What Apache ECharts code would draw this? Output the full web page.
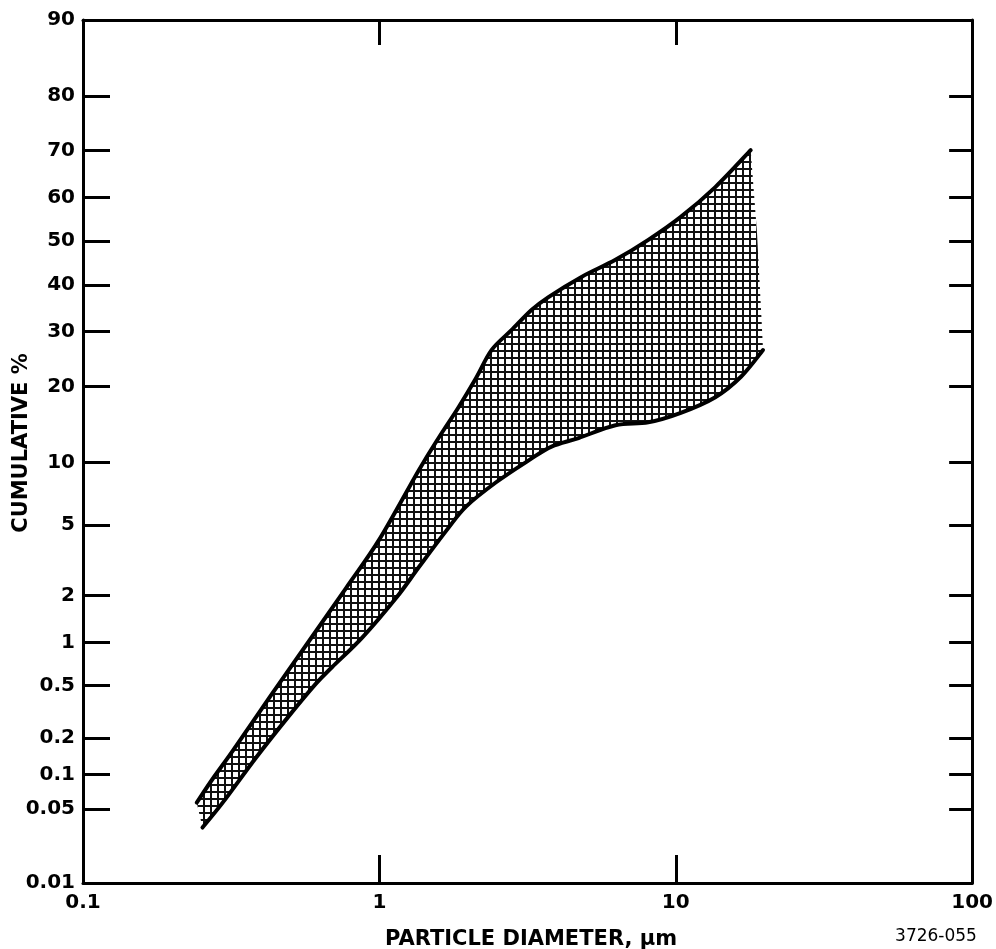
<!DOCTYPE html>
<html>
<head>
<meta charset="utf-8">
<script src="https://cdn.jsdelivr.net/npm/echarts@6/dist/echarts.min.js"></script>
<style>
html,body{margin:0;padding:0;background:#fff;}
#chart{width:996px;height:949px;}
</style>
</head>
<body>
<div id="chart"></div>
<script>
// ---- data ----
const yTickLabels = ['0.01','0.05','0.1','0.2','0.5','1','2','5','10','20','30','40','50','60','70','80','90'];
const yTickPercents = [0.01,0.05,0.1,0.2,0.5,1,2,5,10,20,30,40,50,60,70,80,90];
const xTickLabels = ['0.1','1','10','100'];
const xTickValues = [0.1,1,10,100];

// upper boundary of the band (particle diameter um, cumulative %)
const upperDiameter = [0.242,0.274,0.320,0.426,0.580,0.773,1.00,1.36,1.59,1.85,2.12,2.39,2.79,3.26,3.72,4.81,6.26,8.08,10.4,13.6,17.9];
const upperPercent  = [0.057,0.092,0.157,0.41,1.03,2.23,4.2,9.25,12.8,16.8,21.4,26.4,30.3,34.5,37.3,41.8,45.7,50.3,55.6,62.3,70.1];
// lower boundary of the band
const lowerDiameter = [0.253,0.296,0.385,0.497,0.612,0.693,0.875,1.14,1.36,1.68,1.96,2.47,3.19,3.81,4.70,6.26,8.08,10.4,13.6,16.6,19.7];
const lowerPercent  = [0.034,0.057,0.14,0.30,0.52,0.68,1.08,1.94,2.95,4.66,6.2,8.1,10.2,11.7,12.7,14.3,14.7,16.0,18.3,21.6,26.4];
// right (unstroked) edge of the band, between the two curve ends
const edgeDiameter = [18.8,19.5];
const edgePercent  = [51.9,31.8];

// ---- probability (normal) scale ----
function probit(p){
  const a=[-3.969683028665376e+01,2.209460984245205e+02,-2.759285104469687e+02,1.383577518672690e+02,-3.066479806614716e+01,2.506628277459239e+00];
  const b=[-5.447609879822406e+01,1.615858368580409e+02,-1.556989798598866e+02,6.680131188771972e+01,-1.328068155288572e+01];
  const c=[-7.784894002430293e-03,-3.223964580411365e-01,-2.400758277161838e+00,-2.549732539343734e+00,4.374664141464968e+00,2.938163982698783e+00];
  const d=[7.784695709041462e-03,3.224671290700398e-01,2.445134137142996e+00,3.754408661907416e+00];
  const plow=0.02425, phigh=1-plow;
  let q,r;
  if(p<plow){
    q=Math.sqrt(-2*Math.log(p));
    return (((((c[0]*q+c[1])*q+c[2])*q+c[3])*q+c[4])*q+c[5])/((((d[0]*q+d[1])*q+d[2])*q+d[3])*q+1);
  } else if(p<=phigh){
    q=p-0.5; r=q*q;
    return (((((a[0]*r+a[1])*r+a[2])*r+a[3])*r+a[4])*r+a[5])*q/(((((b[0]*r+b[1])*r+b[2])*r+b[3])*r+b[4])*r+1);
  } else {
    q=Math.sqrt(-2*Math.log(1-p));
    return -(((((c[0]*q+c[1])*q+c[2])*q+c[3])*q+c[4])*q+c[5])/((((d[0]*q+d[1])*q+d[2])*q+d[3])*q+1);
  }
}
const pz = pct => probit(pct/100);
const yTickZ = yTickPercents.map(pz);
const yMin = pz(yTickPercents[0]);
const yMax = pz(yTickPercents[yTickPercents.length-1]);

function yLabel(v){
  let best=0;
  for(let i=1;i<yTickZ.length;i++){ if(Math.abs(yTickZ[i]-v)<Math.abs(yTickZ[best]-v)) best=i; }
  return yTickLabels[best];
}
function xLabel(v){
  let best=0;
  for(let i=1;i<xTickValues.length;i++){
    if(Math.abs(Math.log10(xTickValues[i])-Math.log10(v))<Math.abs(Math.log10(xTickValues[best])-Math.log10(v))) best=i;
  }
  return xTickLabels[best];
}

const upperData = upperDiameter.map((x,i)=>[x, pz(upperPercent[i])]);
const lowerData = lowerDiameter.map((x,i)=>[x, pz(lowerPercent[i])]);
const edgeData  = edgeDiameter.map((x,i)=>[x, pz(edgePercent[i])]);

// smooth SVG path through pixel points (Catmull-Rom -> cubic Bezier)
function smoothPath(pts, start){
  let s = start ? ('M' + pts[0][0] + ' ' + pts[0][1]) : ('L' + pts[0][0] + ' ' + pts[0][1]);
  for(let i=0;i<pts.length-1;i++){
    const p0 = pts[Math.max(i-1,0)], p1 = pts[i], p2 = pts[i+1], p3 = pts[Math.min(i+2,pts.length-1)];
    const c1x = p1[0] + (p2[0]-p0[0])/6, c1y = p1[1] + (p2[1]-p0[1])/6;
    const c2x = p2[0] - (p3[0]-p1[0])/6, c2y = p2[1] - (p3[1]-p1[1])/6;
    s += ' C' + c1x + ' ' + c1y + ' ' + c2x + ' ' + c2y + ' ' + p2[0] + ' ' + p2[1];
  }
  return s;
}

// crosshatch pattern
const pat = document.createElement('canvas');
pat.width = 7; pat.height = 7;
const pctx = pat.getContext('2d');
pctx.fillStyle = '#ffffff'; pctx.fillRect(0,0,7,7);
pctx.fillStyle = '#111111';
pctx.fillRect(0,0,7,2);
pctx.fillRect(0,0,2,7);

const tickFont = {fontFamily:'DejaVu Sans', fontWeight:'bold', fontSize:20, color:'#000'};
const axisLineStyle = {color:'#000', width:3};

const chart = echarts.init(document.getElementById('chart'), null, {renderer:'canvas'});
chart.setOption({
  backgroundColor:'#fff',
  animation:false,
  grid:{left:83, right:21, top:20, bottom:66, containLabel:false},
  xAxis:[{
    type:'log', logBase:10, min:0.1, max:100, position:'bottom',
    axisLine:{show:true, onZero:false, lineStyle:axisLineStyle},
    axisTick:{show:true, inside:true, length:28, lineStyle:{color:'#000', width:3}},
    minorTick:{show:false}, splitLine:{show:false}, minorSplitLine:{show:false},
    axisLabel:Object.assign({margin:10, formatter:xLabel}, tickFont)
  },{
    type:'log', logBase:10, min:0.1, max:100, position:'top',
    axisLine:{show:true, onZero:false, lineStyle:axisLineStyle},
    axisTick:{show:true, inside:true, length:25, lineStyle:{color:'#000', width:3}},
    minorTick:{show:false}, splitLine:{show:false},
    axisLabel:{show:false}
  }],
  yAxis:[{
    type:'value', min:yMin, max:yMax, position:'left',
    axisLine:{show:true, onZero:false, lineStyle:axisLineStyle},
    axisTick:{show:true, inside:true, length:27, customValues:yTickZ, lineStyle:{color:'#000', width:3}},
    splitLine:{show:false},
    axisLabel:Object.assign({margin:8, customValues:yTickZ, formatter:yLabel, showMinLabel:true, showMaxLabel:true}, tickFont)
  },{
    type:'value', min:yMin, max:yMax, position:'right',
    axisLine:{show:true, onZero:false, lineStyle:axisLineStyle},
    axisTick:{show:true, inside:true, length:23, customValues:yTickZ, lineStyle:{color:'#000', width:3}},
    splitLine:{show:false},
    axisLabel:{show:false}
  }],
  graphic:[
    {type:'text', x:22, y:443, rotation:Math.PI/2,
     style:{text:'CUMULATIVE %', align:'center', verticalAlign:'middle', font:'bold 21px "DejaVu Sans"', fill:'#000'}},
    {type:'text', x:531, y:940,
     style:{text:'PARTICLE DIAMETER, μm', align:'center', verticalAlign:'middle', font:'bold 21px "DejaVu Sans"', fill:'#000'}},
    {type:'text', x:936, y:937,
     style:{text:'3726-055', align:'center', verticalAlign:'middle', font:'17px "DejaVu Sans"', fill:'#000'}}
  ],
  series:[{
    type:'custom', name:'size band', coordinateSystem:'cartesian2d', xAxisIndex:0, yAxisIndex:0,
    data:[[1,0]], encode:{x:0,y:1}, silent:true, z:2,
    renderItem:function(params, api){
      const up = upperData.map(p=>api.coord(p));
      const lo = lowerData.map(p=>api.coord(p));
      const ed = edgeData.map(p=>api.coord(p));
      const loRev = lo.slice().reverse();
      let fillPath = smoothPath(up, true);
      ed.forEach(p=>{ fillPath += ' L' + p[0] + ' ' + p[1]; });
      fillPath += ' ' + smoothPath(loRev, false) + ' Z';
      const lineStyle = {fill:null, stroke:'#000', lineWidth:4, lineJoin:'round', lineCap:'round'};
      return {type:'group', children:[
        {type:'path', shape:{pathData:fillPath}, style:{fill:{image:pat, repeat:'repeat'}, stroke:null}},
        {type:'path', shape:{pathData:smoothPath(up, true)}, style:lineStyle},
        {type:'path', shape:{pathData:smoothPath(lo, true)}, style:lineStyle}
      ]};
    }
  }]
});
</script>
</body>
</html>
